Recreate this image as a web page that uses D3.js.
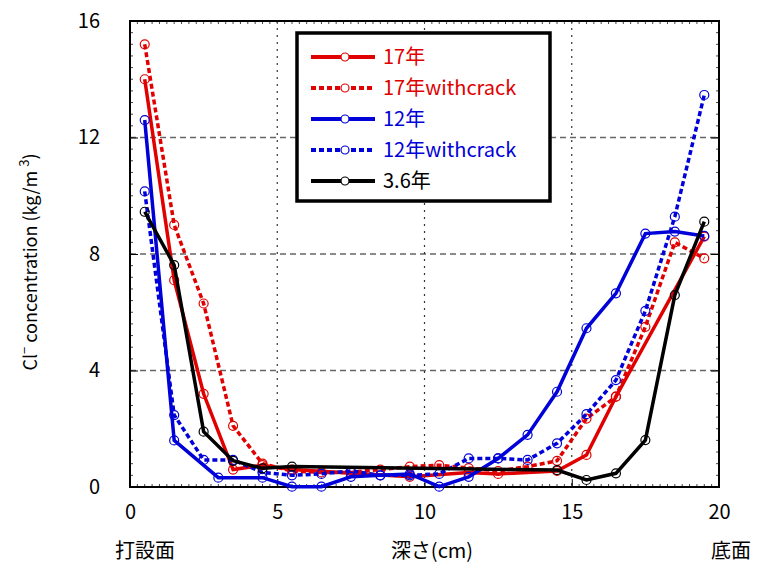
<!DOCTYPE html>
<meta charset="utf-8">
<style>
body { margin: 0; background: #fff; }
text { font-family: "Noto Sans CJK JP", "Noto Sans", sans-serif; }
</style>
<svg width="757" height="564"></svg>
<script src="https://d3js.org/d3.v7.min.js"></script>
<script>

// depth (cm) and Cl- concentration (kg/m3)
var x17 = [0.5, 1.5, 2.5, 3.5, 4.5, 5.5, 9.5, 11.5, 12.5, 14.5, 15.5, 16.5, 19.5],
    y17 = [14.0, 7.1, 3.2, 0.6, 0.75, 0.6, 0.35, 0.5, 0.45, 0.55, 1.1, 3.1, 8.6];
var x17c = [0.5, 1.5, 2.5, 3.5, 4.5, 5.5, 6.5, 7.5, 8.5, 9.5, 10.5, 11.5, 12.5, 13.5, 14.5, 15.5, 16.5, 17.5, 18.5, 19.5],
    y17c = [15.2, 9.0, 6.3, 2.1, 0.8, 0.55, 0.5, 0.5, 0.6, 0.7, 0.75, 0.65, 0.55, 0.7, 0.9, 2.35, 3.1, 5.5, 8.4, 7.85];
var x12 = [0.5, 1.5, 3, 4.5, 5.5, 6.5, 7.5, 8.5, 9.5, 10.5, 11.5, 12.5, 13.5, 14.5, 15.5, 16.5, 17.5, 18.5, 19.5],
    y12 = [12.6, 1.6, 0.32, 0.32, 0.01, 0.01, 0.35, 0.4, 0.45, 0.01, 0.35, 0.98, 1.79, 3.27, 5.45, 6.65, 8.7, 8.77, 8.62];
var x12c = [0.5, 1.5, 2.5, 3.5, 4.5, 5.5, 6.5, 7.5, 8.5, 9.5, 10.5, 11.5, 12.5, 13.5, 14.5, 15.5, 16.5, 17.5, 18.5, 19.5],
    y12c = [10.15, 2.47, 0.93, 0.93, 0.5, 0.4, 0.45, 0.55, 0.4, 0.4, 0.45, 0.98, 0.98, 0.93, 1.5, 2.5, 3.67, 6.05, 9.28, 13.46];
var x36 = [0.5, 1.5, 2.5, 3.5, 4.5, 5.5, 14.5, 15.5, 16.5, 17.5, 18.5, 19.5],
    y36 = [9.45, 7.62, 1.9, 0.9, 0.64, 0.7, 0.58, 0.24, 0.47, 1.61, 6.59, 9.11];

var names = ["17年", "17年withcrack", "12年", "12年withcrack", "3.6年"];
var xTicks = [0, 5, 10, 15, 20],
    yTicks = [0, 4, 8, 12, 16];

var red = "#e00000", blue = "#0000d8";
var series = [
  {name: names[0], xs: x17, ys: y17, color: red, dash: null},
  {name: names[1], xs: x17c, ys: y17c, color: red, dash: "5,3"},
  {name: names[2], xs: x12, ys: y12, color: blue, dash: null},
  {name: names[3], xs: x12c, ys: y12c, color: blue, dash: "5,3"},
  {name: names[4], xs: x36, ys: y36, color: "#000", dash: null}
];

var svg = d3.select("svg"),
    margin = {top: 21, right: 38, bottom: 77, left: 130},
    width = 757 - margin.left - margin.right,
    height = 564 - margin.top - margin.bottom;

var x = d3.scaleLinear().domain([0, 20]).range([0, width]),
    y = d3.scaleLinear().domain([0, 16]).range([height, 0]);

var g = svg.append("g")
    .attr("transform", "translate(" + margin.left + "," + margin.top + ")");

// grid
g.selectAll(".hgrid").data(yTicks.slice(1, -1)).enter().append("line")
    .attr("x1", 0).attr("x2", width)
    .attr("y1", function(d) { return y(d); }).attr("y2", function(d) { return y(d); })
    .attr("stroke", "#666").attr("stroke-width", 1.5).attr("stroke-dasharray", "6,4");
g.selectAll(".vgrid").data(xTicks.slice(1, -1)).enter().append("line")
    .attr("x1", function(d) { return x(d); }).attr("x2", function(d) { return x(d); })
    .attr("y1", 0).attr("y2", height)
    .attr("stroke", "#333").attr("stroke-width", 1.2).attr("stroke-dasharray", "2,5");

// minor ticks
var xMinor = d3.range(0, 20.01, 0.25), yMinor = d3.range(0, 16.01, 0.4);
g.selectAll(".xm").data(xMinor).enter().append("line")
    .attr("x1", function(d) { return x(d); }).attr("x2", function(d) { return x(d); })
    .attr("y1", height).attr("y2", height - 3).attr("stroke", "#444");
g.selectAll(".xm2").data(xMinor).enter().append("line")
    .attr("x1", function(d) { return x(d); }).attr("x2", function(d) { return x(d); })
    .attr("y1", 0).attr("y2", 3).attr("stroke", "#444");
g.selectAll(".ym").data(yMinor).enter().append("line")
    .attr("x1", 0).attr("x2", 3)
    .attr("y1", function(d) { return y(d); }).attr("y2", function(d) { return y(d); }).attr("stroke", "#444");
g.selectAll(".ym2").data(yMinor).enter().append("line")
    .attr("x1", width).attr("x2", width - 3)
    .attr("y1", function(d) { return y(d); }).attr("y2", function(d) { return y(d); }).attr("stroke", "#444");

// axes
g.append("g")
    .attr("transform", "translate(0," + height + ")")
    .call(d3.axisBottom(x).tickValues(xTicks).tickSize(-8).tickPadding(18))
    .call(function(a) { a.select(".domain").remove(); })
    .selectAll("text").attr("font-size", 20).attr("fill", "#000");
g.append("g")
    .call(d3.axisLeft(y).tickValues(yTicks).tickSize(-8).tickPadding(30))
    .call(function(a) { a.select(".domain").remove(); })
    .selectAll("text").attr("font-size", 20).attr("fill", "#000");
g.append("g")
    .attr("transform", "translate(" + width + ",0)")
    .call(d3.axisRight(y).tickValues(yTicks).tickSize(-8).tickFormat(""))
    .call(function(a) { a.select(".domain").remove(); });

// frame
g.append("rect").attr("width", width).attr("height", height)
    .attr("fill", "none").attr("stroke", "#000").attr("stroke-width", 2);

// lines
var line = d3.line().x(function(d) { return x(d[0]); }).y(function(d) { return y(d[1]); });
series.forEach(function(s) {
  var pts = s.xs.map(function(v, i) { return [v, s.ys[i]]; });
  g.append("path").datum(pts)
      .attr("d", line)
      .attr("fill", "none")
      .attr("stroke", s.color)
      .attr("stroke-width", 3.5)
      .attr("stroke-dasharray", s.dash);
  g.selectAll(null).data(pts).enter().append("circle")
      .attr("cx", function(d) { return x(d[0]); })
      .attr("cy", function(d) { return y(d[1]); })
      .attr("r", 4.5)
      .attr("fill", "none")
      .attr("stroke", s.color)
      .attr("stroke-width", 1.2);
});

// legend
var lg = svg.append("g").attr("transform", "translate(297,33)");
lg.append("rect").attr("width", 253).attr("height", 168)
    .attr("fill", "#fff").attr("stroke", "#000").attr("stroke-width", 3.5);
series.forEach(function(s, i) {
  var ly = 24 + i * 31;
  lg.append("line").attr("x1", 14).attr("x2", 78).attr("y1", ly).attr("y2", ly)
      .attr("stroke", s.color).attr("stroke-width", 4).attr("stroke-dasharray", s.dash);
  lg.append("circle").attr("cx", 48).attr("cy", ly).attr("r", 4)
      .attr("fill", "#fff").attr("stroke", s.color).attr("stroke-width", 1.2);
  lg.append("text").attr("x", 86).attr("y", ly).attr("dy", "0.36em")
      .attr("font-size", 20).attr("fill", s.color).text(s.name);
});

// axis titles
svg.append("text").attr("x", 145).attr("y", 558).attr("text-anchor", "middle")
    .attr("font-size", 20).text("打設面");
svg.append("text").attr("x", 432).attr("y", 558).attr("text-anchor", "middle")
    .attr("font-size", 20).text("深さ(cm)");
svg.append("text").attr("x", 731).attr("y", 558).attr("text-anchor", "middle")
    .attr("font-size", 20).text("底面");

var yt = svg.append("text")
    .attr("transform", "translate(37,262) rotate(-90)")
    .attr("text-anchor", "middle").attr("font-size", 18);
yt.append("tspan").text("Cl");
yt.append("tspan").attr("dy", -8).attr("font-size", 13).text("−");
yt.append("tspan").attr("dy", 8).text(" concentration (kg/m ");
yt.append("tspan").attr("dy", -8).attr("font-size", 13).text("3");
yt.append("tspan").attr("dy", 8).text(")");

</script>
